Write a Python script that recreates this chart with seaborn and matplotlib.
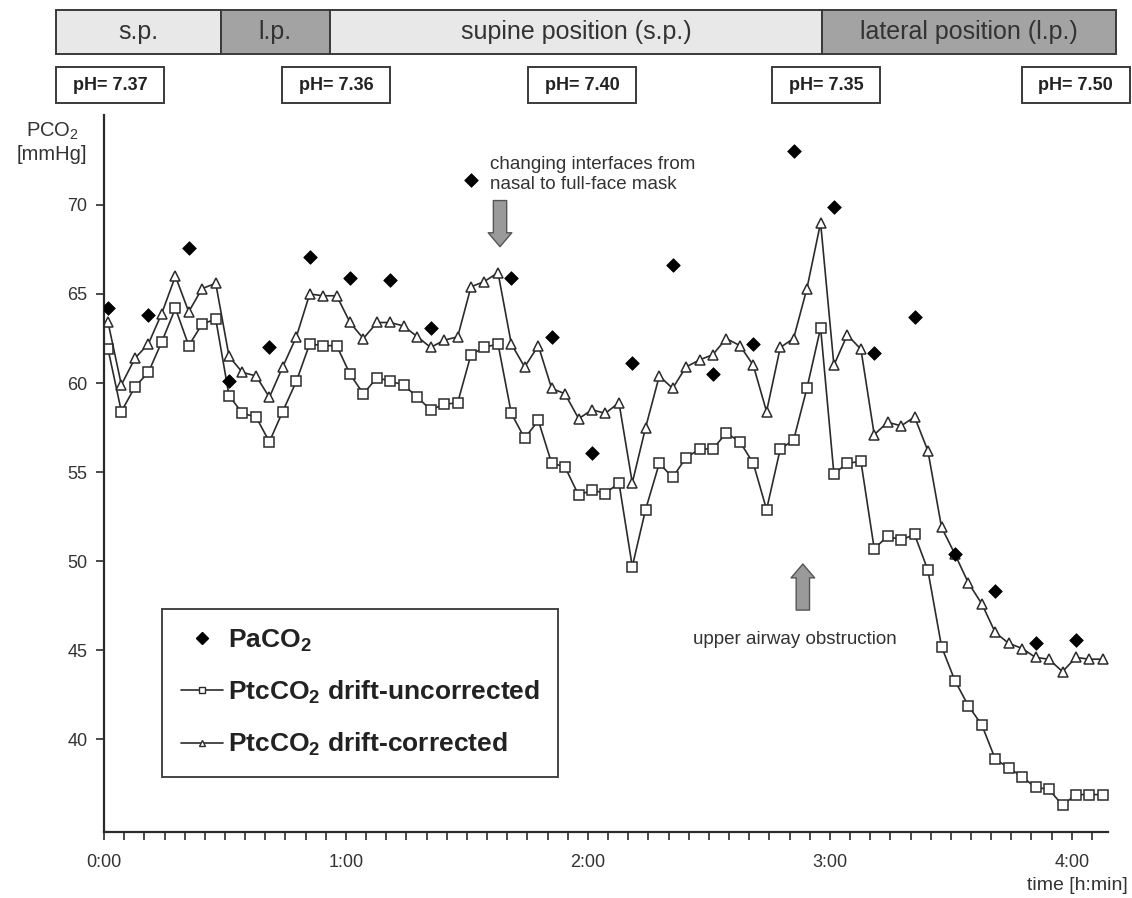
import pandas as pd
import matplotlib.pyplot as plt
import seaborn as sns
import matplotlib.transforms as mtransforms
from matplotlib.patches import Rectangle
from matplotlib.lines import Line2D
from matplotlib.ticker import MultipleLocator

# sample times in minutes since start
minutes = [1.0, 4.3, 7.7, 11.0, 14.3, 17.7, 21.0, 24.3, 27.7, 31.0,
           34.3, 37.7, 41.0, 44.3, 47.7, 51.0, 54.3, 57.7, 61.0, 64.3,
           67.7, 71.0, 74.3, 77.7, 81.0, 84.3, 87.7, 91.0, 94.3, 97.7,
           101.0, 104.3, 107.7, 111.0, 114.3, 117.7, 121.0, 124.3, 127.7, 131.0,
           134.3, 137.7, 141.0, 144.3, 147.7, 151.0, 154.3, 157.7, 161.0, 164.3,
           167.7, 171.0, 174.3, 177.7, 181.0, 184.3, 187.7, 191.0, 194.3, 197.7,
           201.0, 204.3, 207.7, 211.0, 214.3, 217.7, 221.0, 224.3, 227.7, 231.0,
           234.3, 237.7, 241.0, 244.3, 247.7]

ptc_uncorrected = [61.9, 58.4, 59.8, 60.6, 62.3, 64.2, 62.1, 63.3, 63.6, 59.3,
                   58.3, 58.1, 56.7, 58.4, 60.1, 62.2, 62.1, 62.1, 60.5, 59.4,
                   60.3, 60.1, 59.9, 59.2, 58.5, 58.8, 58.9, 61.6, 62.0, 62.2,
                   58.3, 56.9, 57.9, 55.5, 55.3, 53.7, 54.0, 53.8, 54.4, 49.7,
                   52.9, 55.5, 54.7, 55.8, 56.3, 56.3, 57.2, 56.7, 55.5, 52.9,
                   56.3, 56.8, 59.7, 63.1, 54.9, 55.5, 55.6, 50.7, 51.4, 51.2,
                   51.5, 49.5, 45.2, 43.3, 41.9, 40.8, 38.9, 38.4, 37.9, 37.3,
                   37.2, 36.3, 36.9, 36.9, 36.9]

ptc_corrected = [63.4, 59.9, 61.4, 62.2, 63.9, 66.0, 64.0, 65.3, 65.6, 61.5,
                 60.6, 60.4, 59.2, 60.9, 62.6, 65.0, 64.9, 64.9, 63.4, 62.5,
                 63.4, 63.4, 63.2, 62.6, 62.0, 62.4, 62.6, 65.4, 65.7, 66.2,
                 62.2, 60.9, 62.1, 59.7, 59.4, 58.0, 58.5, 58.3, 58.9, 54.4,
                 57.5, 60.4, 59.7, 60.9, 61.3, 61.6, 62.5, 62.1, 61.0, 58.4,
                 62.0, 62.5, 65.3, 69.0, 61.0, 62.7, 61.9, 57.1, 57.8, 57.6,
                 58.1, 56.2, 51.9, 50.4, 48.8, 47.6, 46.0, 45.4, 45.1, 44.6,
                 44.5, 43.8, 44.6, 44.5, 44.5]

pa_minutes = [1, 11, 21, 31, 41, 51, 61, 71, 81, 91, 101, 111, 121,
              131, 141, 151, 161, 171, 181, 191, 201, 211, 221, 231, 241]
paco2 = [64.2, 63.8, 67.6, 60.1, 62.0, 67.1, 65.9, 65.8, 63.1, 71.4, 65.9, 62.6, 56.1,
         61.1, 66.6, 60.5, 62.2, 73.0, 69.9, 61.7, 63.7, 50.4, 48.3, 45.4, 45.6]

phase_labels = ["s.p.", "l.p.", "supine position (s.p.)", "lateral position (l.p.)"]
phase_edges = [-12, 29, 56, 178, 251]
phase_colors = ["#e8e8e8", "#a3a3a3", "#e8e8e8", "#a3a3a3"]

ph_minutes = [1.5, 57.5, 118.5, 179, 241]
ph_values = ["7.37", "7.36", "7.40", "7.35", "7.50"]

hour_ticks = [0, 60, 120, 180, 240]
hour_labels = ["0:00", "1:00", "2:00", "3:00", "4:00"]

sns.set_theme(style="ticks")
plt.rcParams['font.family'] = ['Liberation Sans', 'DejaVu Sans']
plt.rcParams['mathtext.default'] = 'regular'

ink = "#2b2b2b"
fig = plt.figure(figsize=(11.32, 8.98), dpi=100)
ax = fig.add_axes([0.0919, 0.0735, 0.887, 0.7985])

sns.lineplot(x=minutes, y=ptc_uncorrected, ax=ax, color=ink, linewidth=1.2,
             marker="s", markersize=6.5, markerfacecolor="white",
             markeredgecolor=ink, markeredgewidth=1.1, legend=False)
sns.lineplot(x=minutes, y=ptc_corrected, ax=ax, color=ink, linewidth=1.2,
             marker="^", markersize=7.5, markerfacecolor="white",
             markeredgecolor=ink, markeredgewidth=1.1, legend=False)
sns.scatterplot(x=pa_minutes, y=paco2, ax=ax, marker="D", s=48,
                color="black", edgecolor="black", zorder=5, legend=False)

ax.set_xlim(0, 249)
ax.set_ylim(34.8, 75.05)
ax.set_xticks(hour_ticks, hour_labels)
ax.xaxis.set_minor_locator(MultipleLocator(5))
ax.set_yticks([40, 45, 50, 55, 60, 65, 70])
sns.despine(ax=ax)
for side in ["left", "bottom"]:
    ax.spines[side].set_linewidth(1.6)
    ax.spines[side].set_color(ink)
ax.tick_params(axis="both", which="both", direction="out", color=ink,
               labelcolor="#333333", labelsize=13, width=1.2)
ax.tick_params(axis="y", length=6, pad=6)
ax.tick_params(axis="x", which="major", length=6, pad=10)
ax.tick_params(axis="x", which="minor", length=6)

fig.text(0.046, 0.866, "PCO$_2$\n[mmHg]", ha="center", va="top",
         fontsize=14.5, color="#333333", linespacing=1.25)
fig.text(0.996, 0.004, "time [h:min]", ha="right", va="bottom",
         fontsize=14, color="#333333")

# position bar and pH boxes share the time axis
trans = mtransforms.blended_transform_factory(ax.transData, fig.transFigure)
for lab, x0, x1, col in zip(phase_labels, phase_edges[:-1], phase_edges[1:], phase_colors):
    ax.add_patch(Rectangle((x0, 0.94), x1 - x0, 0.049, transform=trans,
                           facecolor=col, edgecolor="#3a3a3a", linewidth=1.4,
                           clip_on=False))
    ax.text((x0 + x1) / 2, 0.964, lab, transform=trans, ha="center", va="center",
            fontsize=18, color="#333333", clip_on=False)

for t, v in zip(ph_minutes, ph_values):
    ax.add_patch(Rectangle((t - 13.4, 0.885), 26.8, 0.04, transform=trans,
                           facecolor="white", edgecolor="#3a3a3a", linewidth=1.4,
                           clip_on=False))
    ax.text(t, 0.905, "pH= " + v, transform=trans, ha="center", va="center",
            fontsize=13, fontweight="bold", color="#222222", clip_on=False)

# annotations
arrow_style = "simple,head_length=0.5,head_width=0.85,tail_width=0.48"
ax.annotate("", xy=(98.2, 67.5), xytext=(98.2, 70.4),
            arrowprops=dict(arrowstyle=arrow_style, mutation_scale=20,
                            fc="#9a9a9a", ec="#555555", lw=1))
ax.text(95.8, 71.7, "changing interfaces from\nnasal to full-face mask",
        ha="left", va="center", fontsize=13.5, color="#333333", linespacing=1.2)
ax.annotate("", xy=(173.3, 50.0), xytext=(173.3, 47.1),
            arrowprops=dict(arrowstyle=arrow_style, mutation_scale=20,
                            fc="#9a9a9a", ec="#555555", lw=1))
ax.text(171.3, 45.6, "upper airway obstruction", ha="center", va="center",
        fontsize=13.5, color="#333333")

handles = [
    Line2D([], [], linestyle="none", marker="D", markersize=6,
           color="black"),
    Line2D([], [], color=ink, linewidth=1.2, marker="s", markersize=4.5,
           markerfacecolor="white", markeredgecolor=ink),
    Line2D([], [], color=ink, linewidth=1.2, marker="^", markersize=5,
           markerfacecolor="white", markeredgecolor=ink),
]
labels = ["PaCO$_2$", "PtcCO$_2$ drift-uncorrected", "PtcCO$_2$ drift-corrected"]
leg = ax.legend(handles, labels, loc="upper left", bbox_to_anchor=(0.0578, 0.311),
                borderaxespad=0, frameon=True, fancybox=False, framealpha=1,
                edgecolor="#444444", handlelength=1.6, handletextpad=0.2,
                labelspacing=0.95, borderpad=0.7,
                prop={"size": 19, "weight": "bold"})
leg.get_frame().set_linewidth(1.4)
for txt in leg.get_texts():
    txt.set_color("#222222")

fig.savefig("out.png", dpi=100)
